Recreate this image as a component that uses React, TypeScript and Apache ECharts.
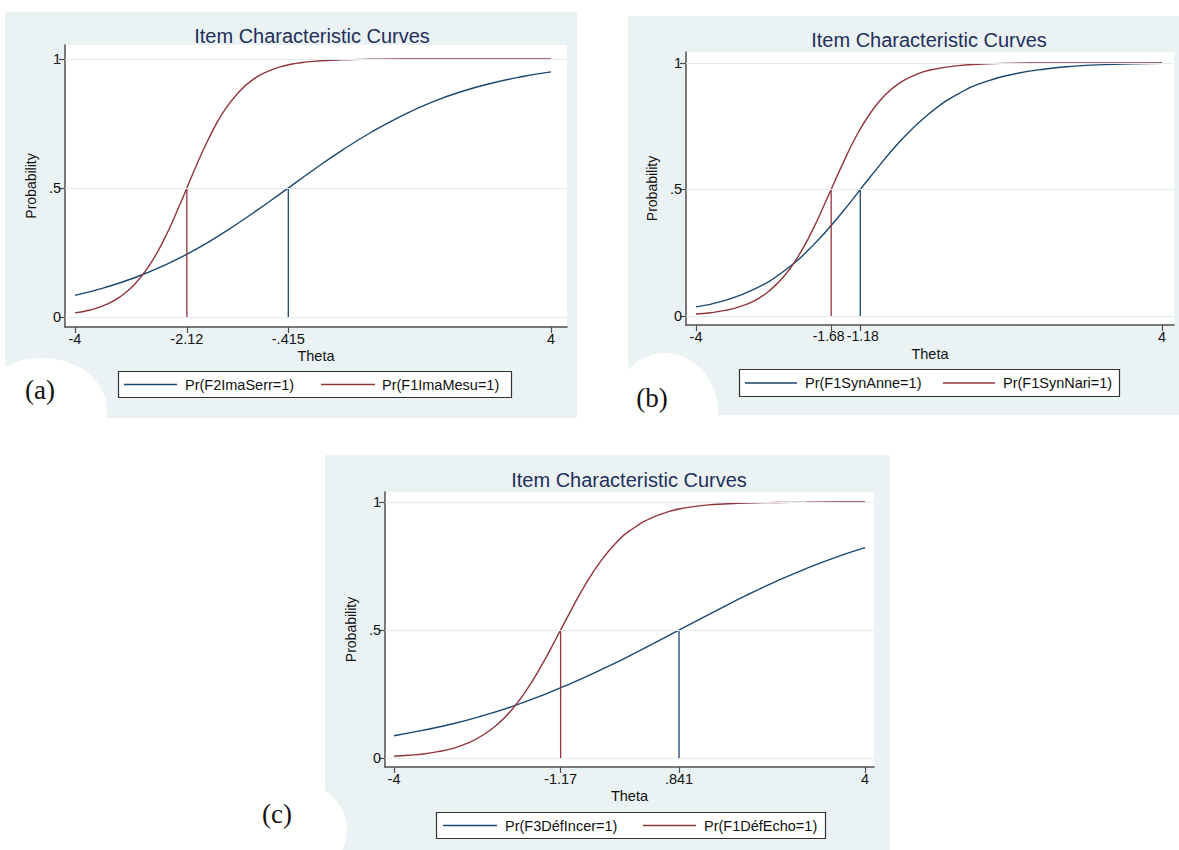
import React, { useEffect, useRef } from 'react';
import * as echarts from 'echarts';

// theta grids
const thetaHalf = [-4, -3.5, -3, -2.5, -2, -1.5, -1, -0.5, 0, 0.5, 1, 1.5, 2, 2.5, 3, 3.5, 4];
const thetaQuarter = [-4, -3.75, -3.5, -3.25, -3, -2.75, -2.5, -2.25, -2, -1.75, -1.5, -1.25, -1, -0.75, -0.5, -0.25, 0, 0.5, 1, 1.5, 2, 2.5, 3, 3.5, 4];

const chartTitle = 'Item Characteristic Curves';
const xName = 'Theta';
const yName = 'Probability';
const yTickValues = [0, 0.5, 1];
const yTickLabels = ['0', '.5', '1'];

// (a)
const aNames = ['Pr(F2ImaSerr=1)', 'Pr(F1ImaMesu=1)'];
const aBlue = [0.084, 0.114, 0.152, 0.2, 0.258, 0.327, 0.404, 0.486, 0.569, 0.648, 0.719, 0.781, 0.833, 0.874, 0.906, 0.931, 0.95];
const aRed = [0.016, 0.027, 0.046, 0.077, 0.126, 0.2, 0.302, 0.429, 0.566, 0.693, 0.797, 0.871, 0.922, 0.953, 0.973, 0.984, 0.991, 0.997, 0.999, 1.0, 1.0, 1.0, 1.0, 1.0, 1.0];
const aCuts = [-0.415, -2.12];
const aTickValues = [-4, -2.12, -0.415, 4];
const aTickLabels = ['-4', '-2.12', '-.415', '4'];

// (b)
const bNames = ['Pr(F1SynAnne=1)', 'Pr(F1SynNari=1)'];
const bBlue = [0.036, 0.062, 0.106, 0.176, 0.277, 0.407, 0.552, 0.689, 0.799, 0.877, 0.928, 0.958, 0.976, 0.987, 0.993, 0.996, 0.998];
const bRed = [0.008, 0.013, 0.022, 0.037, 0.06, 0.098, 0.154, 0.234, 0.339, 0.464, 0.592, 0.71, 0.804, 0.874, 0.921, 0.951, 0.971, 0.989, 0.996, 0.999, 0.9995, 0.9998, 0.9999, 1.0, 1.0];
const bCuts = [-1.18, -1.68];
const bTickValues = [-4, -1.68, -1.18, 4];
const bTickLabels = ['-4', '-1.68', '-1.18', '4'];

// (c)
const cNames = ['Pr(F3DéfIncer=1)', 'Pr(F1DéfEcho=1)'];
const cBlue = [0.087, 0.109, 0.134, 0.165, 0.201, 0.243, 0.291, 0.343, 0.399, 0.459, 0.519, 0.579, 0.637, 0.691, 0.74, 0.784, 0.822];
const cRed = [0.007, 0.011, 0.016, 0.025, 0.038, 0.058, 0.088, 0.13, 0.188, 0.265, 0.359, 0.465, 0.574, 0.677, 0.765, 0.835, 0.887, 0.95, 0.979, 0.991, 0.996, 0.998, 0.999, 1.0, 1.0];
const cCuts = [0.841, -1.17];
const cTickValues = [-4, -1.17, 0.841, 4];
const cTickLabels = ['-4', '-1.17', '.841', '4'];

const panelLabels = ['(a)', '(b)', '(c)'];

const BLUE = '#1a476f';
const RED = '#90353b';
const BG = '#eaf2f3';
const AXIS = '#4f4f4f';
const SANS = '"Liberation Sans", Arial, Helvetica, sans-serif';
const SERIF = '"Liberation Serif", "Times New Roman", serif';

type Layout = {
  bg: [number, number, number, number];
  grid: [number, number, number, number];
  xr: [number, number];
  yr: [number, number];
  title: [number, number];
  label: [number, number];
  ell: [number, number, number, number];
  leg: [number, number, number, number];
  legItems: [number, number, number][];
  labelShift: string[];
};

const layouts: Layout[] = [
  {
    bg: [5, 12, 572, 406], grid: [65, 45, 502, 282], xr: [-4.168, 4.269], yr: [-0.0388, 1.0543],
    title: [312, 36], label: [40, 390], ell: [42, 410, 65, 52],
    leg: [118, 371, 393, 26], legItems: [[124, 177, 185], [321, 375, 382]],
    labelShift: ['', '', '', ''],
  },
  {
    bg: [628, 16, 551, 399], grid: [686, 52, 488, 273], xr: [-4.172, 4.206], yr: [-0.0356, 1.043],
    title: [929, 40], label: [652, 398], ell: [665, 412, 53, 59],
    leg: [739, 369, 380, 27], legItems: [[745, 797, 805], [943, 995, 1003]],
    labelShift: ['', 'l', 'r', ''],
  },
  {
    bg: [325, 455, 565, 395], grid: [385, 492, 489, 275], xr: [-4.153, 4.153], yr: [-0.035, 1.039],
    title: [629, 480], label: [277, 814], ell: [292, 830, 55, 50],
    leg: [436, 812, 389, 26], legItems: [[443, 497, 505], [643, 696, 704]],
    labelShift: ['', '', '', ''],
  },
];

const panelData = [
  { names: aNames, blue: aBlue, red: aRed, cuts: aCuts, ticks: aTickValues, tickLabels: aTickLabels },
  { names: bNames, blue: bBlue, red: bRed, cuts: bCuts, ticks: bTickValues, tickLabels: bTickLabels },
  { names: cNames, blue: cBlue, red: cRed, cuts: cCuts, ticks: cTickValues, tickLabels: cTickLabels },
];

function labelFor(values: number[], labels: string[], shifts?: string[]) {
  return (v: number) => {
    for (let i = 0; i < values.length; i++) {
      if (Math.abs(values[i] - v) < 1e-6) {
        const s = shifts ? shifts[i] : '';
        return s ? `{${s}|${labels[i]}}` : labels[i];
      }
    }
    return '';
  };
}

export default function App() {
  const ref = useRef<HTMLDivElement>(null);
  useEffect(() => {
    if (!ref.current) return;
    const chart = echarts.init(ref.current, undefined, { renderer: 'svg' });
    const grids: any[] = [];
    const xAxes: any[] = [];
    const yAxes: any[] = [];
    const series: any[] = [];
    const graphics: any[] = [];

    layouts.forEach((L, i) => {
      const D = panelData[i];
      grids.push({
        left: L.grid[0], top: L.grid[1], width: L.grid[2], height: L.grid[3],
        show: true, backgroundColor: '#ffffff', borderWidth: 0,
      });
      xAxes.push({
        gridIndex: i, type: 'value', min: L.xr[0], max: L.xr[1],
        axisLine: { show: true, onZero: false, lineStyle: { color: AXIS, width: 1.5 } },
        axisTick: { show: true, customValues: D.ticks, length: 6, lineStyle: { color: AXIS, width: 1.2 } },
        axisLabel: {
          show: true, customValues: D.ticks, formatter: labelFor(D.ticks, D.tickLabels, L.labelShift),
          color: '#111', fontSize: 14.5, fontFamily: SANS, margin: 4, hideOverlap: false,
          rich: {
            l: { fontSize: 14, fontFamily: SANS, color: '#111', padding: [0, 5, 0, 0] },
            r: { fontSize: 14, fontFamily: SANS, color: '#111', padding: [0, 0, 0, 5] },
          },
        },
        splitLine: { show: false },
        name: xName, nameLocation: 'middle', nameGap: 21,
        nameTextStyle: { color: '#111', fontSize: 14.5, fontFamily: SANS },
      });
      yAxes.push({
        gridIndex: i, type: 'value', min: L.yr[0], max: L.yr[1],
        axisLine: { show: true, onZero: false, lineStyle: { color: AXIS, width: 1.5 } },
        axisTick: { show: true, customValues: yTickValues, length: 6, lineStyle: { color: AXIS, width: 1.2 } },
        axisLabel: {
          show: true, customValues: yTickValues, formatter: labelFor(yTickValues, yTickLabels),
          color: '#111', fontSize: 14.5, fontFamily: SANS, margin: 4,
        },
        splitLine: { show: false },
        name: yName, nameLocation: 'middle', nameGap: 27,
        nameTextStyle: { color: '#111', fontSize: 14, fontFamily: SANS },
      });
      // gridlines
      series.push({
        type: 'line', xAxisIndex: i, yAxisIndex: i, data: [], z: 1, silent: true,
        markLine: {
          silent: true, symbol: ['none', 'none'], label: { show: false },
          lineStyle: { color: '#e3edef', type: 'solid', width: 1 },
          data: yTickValues.map((v) => ({ yAxis: v })),
        },
      });
      series.push({
        type: 'line', name: D.names[0], xAxisIndex: i, yAxisIndex: i,
        data: thetaHalf.map((t, k) => [t, D.blue[k]]),
        showSymbol: false, smooth: 0.5, z: 3,
        lineStyle: { color: BLUE, width: 1.4 },
      });
      series.push({
        type: 'line', name: D.names[1], xAxisIndex: i, yAxisIndex: i,
        data: thetaQuarter.map((t, k) => [t, D.red[k]]),
        showSymbol: false, smooth: 0.5, z: 3,
        lineStyle: { color: RED, width: 1.4 },
      });
      D.cuts.forEach((c, j) => {
        series.push({
          type: 'line', xAxisIndex: i, yAxisIndex: i,
          data: [[c, 0], [c, 0.5]], showSymbol: false, z: 3,
          lineStyle: { color: j === 0 ? BLUE : RED, width: 1.3 },
        });
      });

      graphics.push({
        type: 'rect', z: -100 + i * 2, silent: true,
        shape: { x: L.bg[0], y: L.bg[1], width: L.bg[2], height: L.bg[3] },
        style: { fill: BG },
      });
      graphics.push({
        type: 'ellipse', z: -99 + i * 2, silent: true,
        shape: { cx: L.ell[0], cy: L.ell[1], rx: L.ell[2], ry: L.ell[3] },
        style: { fill: '#ffffff' },
      });
      graphics.push({
        type: 'text', z: 10, x: L.title[0], y: L.title[1],
        style: { text: chartTitle, fill: '#1f2f5c', font: `20px ${SANS}`, align: 'center', verticalAlign: 'middle' },
      });
      graphics.push({
        type: 'text', z: 10, x: L.label[0], y: L.label[1],
        style: { text: panelLabels[i], fill: '#111', font: `27px ${SERIF}`, align: 'center', verticalAlign: 'middle' },
      });
      graphics.push({
        type: 'rect', z: 10,
        shape: { x: L.leg[0] + 0.5, y: L.leg[1] + 0.5, width: L.leg[2], height: L.leg[3] },
        style: { fill: '#ffffff', stroke: '#333', lineWidth: 1.2 },
      });
      const cy = L.leg[1] + L.leg[3] / 2 + 0.5;
      L.legItems.forEach((it, j) => {
        graphics.push({
          type: 'line', z: 11,
          shape: { x1: it[0], y1: cy, x2: it[1], y2: cy },
          style: { stroke: j === 0 ? BLUE : RED, lineWidth: 1.4 },
        });
        graphics.push({
          type: 'text', z: 11, x: it[2], y: cy,
          style: { text: D.names[j], fill: '#111', font: `14.5px ${SANS}`, align: 'left', verticalAlign: 'middle' },
        });
      });
    });

    chart.setOption({
      animation: false,
      backgroundColor: '#ffffff',
      grid: grids,
      xAxis: xAxes,
      yAxis: yAxes,
      series,
      graphic: { elements: graphics },
    });
    return () => chart.dispose();
  }, []);
  return (
    <div
      ref={ref}
      style={{ position: 'absolute', left: 0, top: 0, width: 1179, height: 850 }}
    />
  );
}
